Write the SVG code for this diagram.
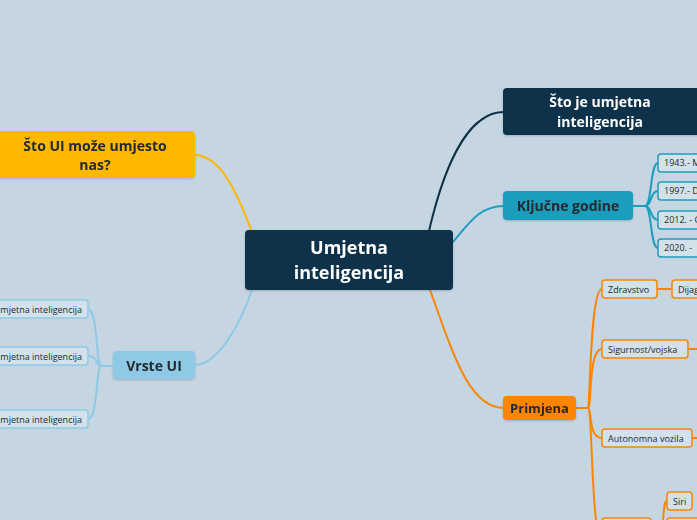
<svg xmlns="http://www.w3.org/2000/svg" width="697" height="520" viewBox="0 0 697 520">
<defs>
<filter id="sh" x="-10%" y="-10%" width="120%" height="140%">
<feDropShadow dx="0" dy="1" stdDeviation="1" flood-color="#000" flood-opacity="0.18"/>
</filter>
<style>
.bg{fill:#c5d5e1}
.t{font-family:"Open Sans","Noto Sans","Liberation Sans",sans-serif}
.main{font-size:18px;font-weight:700;fill:#ffffff;text-anchor:middle}
.mainw{font-size:14px;font-weight:700;fill:#ffffff;text-anchor:middle}
.br{font-size:14px;font-weight:700;fill:#222a30;text-anchor:middle}
.sub{font-size:9px;fill:#222a30}
.c{fill:none;stroke-width:2;stroke-linecap:round}
.navy{fill:#0b3048}
.teal{fill:#1f9dbd}
.amber{fill:#ffb703}
.lblue{fill:#8ecae6}
.orange{fill:#fb8500}
.ct{stroke:#1f9dbd}
.cn{stroke:#0b3048}
.ca{stroke:#ffb703}
.cl{stroke:#8ecae6}
.co{stroke:#fb8500}
.leaf{fill:#d3e1ea;stroke-width:1.5}
</style>
</defs>
<rect class="bg" x="0" y="0" width="697" height="520"/>

<g id="connectors">
<path class="c cn" d="M429,231 C442,175 465,112 504,112"/>
<path class="c ct" d="M452,243 C470,222 480,206 504,206"/>
<path class="c ca" d="M194,155 C220,155 236,190 252,232"/>
<path class="c cl" d="M194,365 C218,365 240,325 252,290"/>
<path class="c co" d="M430,290 C452,350 468,408 504,408"/>
<path class="c ct" d="M633,206 L645,206 C652,206 650,163 658,163"/>
<path class="c ct" d="M645,206 C652,206 650,191 658,191"/>
<path class="c ct" d="M645,206 C652,206 650,220 658,220"/>
<path class="c ct" d="M645,206 C652,206 650,248 658,248"/>
<path class="c cl" d="M113,366 L101,366 C96,366 98,309 88,309"/>
<path class="c cl" d="M101,366 C96,366 98,356 88,356"/>
<path class="c cl" d="M101,366 C96,366 98,419 88,419"/>
<path class="c co" d="M576,408 L588,408 C590,408 590,289 602,289"/>
<path class="c co" d="M588,408 C592,408 588,349 602,349"/>
<path class="c co" d="M588,408 C592,408 588,438 602,438"/>
<path class="c co" d="M588,408 C592,408 592,520 598,528"/>
<path class="c co" d="M657,289 L672,289"/>
<path class="c co" d="M688,349 L697,349"/>
<path class="c co" d="M692,438 L697,438"/>
<path class="c co" d="M651,528 L660,528 C665,528 662,501 667,501"/>
</g>

<g id="center" filter="url(#sh)">
<rect class="navy" x="245" y="230" width="208" height="60" rx="4"/>
<text class="t main" x="349" y="254">Umjetna</text>
<text class="t main" x="349" y="279">inteligencija</text>
</g>

<g id="sto-je" filter="url(#sh)">
<rect class="navy" x="503" y="88" width="200" height="47" rx="4"/>
<text class="t mainw" x="600" y="107">Što je umjetna</text>
<text class="t mainw" x="600" y="127">inteligencija</text>
</g>

<g id="kljucne-godine" filter="url(#sh)">
<rect class="teal" x="503" y="191" width="130" height="29" rx="4"/>
<text class="t br" x="568" y="211">Ključne godine</text>
</g>

<g id="g1943"><rect class="leaf" x="658" y="154" width="45" height="18" rx="3" stroke="#1f9dbd"/><text class="t sub" x="664" y="166">1943.- M</text></g>
<g id="g1997"><rect class="leaf" x="658" y="182" width="45" height="18" rx="3" stroke="#1f9dbd"/><text class="t sub" x="664" y="194">1997.- D</text></g>
<g id="g2012"><rect class="leaf" x="658" y="211" width="45" height="18" rx="3" stroke="#1f9dbd"/><text class="t sub" x="664" y="223">2012. - G</text></g>
<g id="g2020"><rect class="leaf" x="658" y="239" width="45" height="18" rx="3" stroke="#1f9dbd"/><text class="t sub" x="664" y="251">2020. -</text></g>

<g id="sto-ui" filter="url(#sh)">
<rect class="amber" x="-6" y="131" width="201" height="47" rx="4"/>
<text class="t br" x="95" y="151">Što UI može umjesto</text>
<text class="t br" x="95" y="170">nas?</text>
</g>

<g id="vrste-ui" filter="url(#sh)">
<rect class="lblue" x="113" y="351" width="82" height="28" rx="4"/>
<text class="t br" x="154" y="371">Vrste UI</text>
</g>

<g id="v1"><rect class="leaf" x="-6" y="300" width="94" height="18" rx="3" stroke="#8ecae6"/><text class="t sub" x="82" y="312.5" text-anchor="end">umjetna inteligencija</text></g>
<g id="v2"><rect class="leaf" x="-6" y="347" width="94" height="18" rx="3" stroke="#8ecae6"/><text class="t sub" x="82" y="359.5" text-anchor="end">umjetna inteligencija</text></g>
<g id="v3"><rect class="leaf" x="-6" y="410" width="94" height="18" rx="3" stroke="#8ecae6"/><text class="t sub" x="82" y="422.5" text-anchor="end">umjetna inteligencija</text></g>

<g id="primjena" filter="url(#sh)">
<rect class="orange" x="503" y="396" width="73" height="24" rx="4"/>
<text class="t br" x="539.5" y="413" style="font-size:13px">Primjena</text>
</g>

<g id="zdravstvo"><rect class="leaf" x="602" y="280" width="55" height="18" rx="3" stroke="#fb8500"/><text class="t sub" x="608" y="292.5">Zdravstvo</text></g>
<g id="dijag"><rect class="leaf" x="672" y="280" width="40" height="18" rx="3" stroke="#fb8500"/><text class="t sub" x="678" y="292.5">Dijag</text></g>
<g id="sigurnost"><rect class="leaf" x="602" y="340" width="86" height="18" rx="3" stroke="#fb8500"/><text class="t sub" x="608" y="352.5">Sigurnost/vojska</text></g>
<g id="autonomna"><rect class="leaf" x="602" y="429" width="90" height="18" rx="3" stroke="#fb8500"/><text class="t sub" x="608" y="441.5">Autonomna vozila</text></g>
<g id="bottom"><rect class="leaf" x="602" y="518" width="49" height="18" rx="3" stroke="#fb8500"/></g>
<g id="siri"><rect class="leaf" x="667" y="492" width="25" height="18" rx="3" stroke="#fb8500"/><text class="t sub" x="673" y="504.5">Siri</text></g>
<g id="bottom2"><rect class="leaf" x="667" y="518" width="40" height="18" rx="3" stroke="#fb8500"/></g>
</svg>
